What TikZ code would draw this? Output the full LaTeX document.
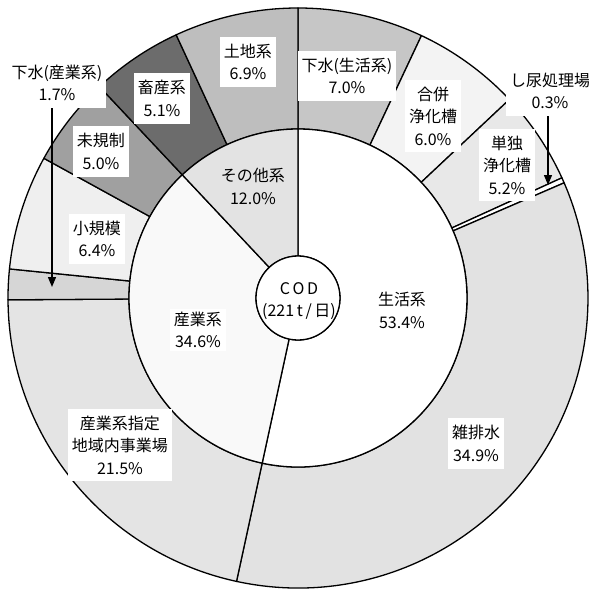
\documentclass[tikz,border=0pt]{standalone}
\usepackage{fontspec}
\newfontfamily\jpfont{Noto Sans CJK JP}
\usetikzlibrary{arrows.meta,positioning}

\definecolor{sewerhome}{HTML}{C6C6C6}
\definecolor{combined}{HTML}{F3F3F3}
\definecolor{single}{HTML}{E8E8E8}
\definecolor{greywater}{HTML}{E2E2E2}
\definecolor{zoned}{HTML}{E4E4E4}
\definecolor{sewerind}{HTML}{D6D6D6}
\definecolor{smallsc}{HTML}{EFEFEF}
\definecolor{unreg}{HTML}{A0A0A0}
\definecolor{livestock}{HTML}{6C6C6C}
\definecolor{landuse}{HTML}{BEBEBE}
\definecolor{industry}{HTML}{F9F9F9}
\definecolor{others}{HTML}{E3E3E3}

\begin{document}
\begin{tikzpicture}[
    x=1pt, y=1pt,
    font=\jpfont\fontsize{16}{22.5}\selectfont,
    slice/.style={draw, line width=1.3pt, line join=round},
    tag/.style={fill=white, align=center, inner xsep=4pt, inner ysep=7pt},
    plain/.style={align=center, inner sep=2pt},
    pointer/.style={-{Triangle[length=10pt, width=8pt]}, line width=1.3pt}
]
\useasboundingbox (-298,-294) rectangle (291,298);

% Outer ring
\foreach \a/\b/\c in {90/64.8/sewerhome, 64.8/43.2/combined, 43.2/24.48/single,
    24.48/23.4/white, 23.4/-102.24/greywater, -102.24/-179.64/zoned,
    -179.64/-185.76/sewerind, -185.76/-208.8/smallsc, -208.8/-226.8/unreg,
    -226.8/-245.16/livestock, -245.16/-270/landuse}
  \filldraw[slice, fill=\c] (\a:169pt) arc[start angle=\a, end angle=\b, radius=169pt]
    -- (\b:290pt) arc[start angle=\b, end angle=\a, radius=290pt] -- cycle;

% Inner ring
\foreach \a/\b/\c in {90/-102.24/white, -102.24/-226.8/industry, -226.8/-270/others}
  \filldraw[slice, fill=\c] (\a:42pt) arc[start angle=\a, end angle=\b, radius=42pt]
    -- (\b:169pt) arc[start angle=\b, end angle=\a, radius=169pt] -- cycle;

% Centre
\filldraw[slice, fill=white] (0,0) circle[radius=42pt];
\node[plain] (total) at (1,-3) {C\,O\,D\\(221\,t\,/\,日)};

% Inner labels
\node[plain] (living) at (104,-12.5) {生活系\\53.4\%};
\node[tag, inner ysep=3pt] (industrial) at (-100,-32) {産業系\\34.6\%};
\node[plain] (other) at (-45,111.5) {その他系\\12.0\%};

% Outer labels
\node[tag] (sewer-home) at (49,222) {下水(生活系)\\7.0\%};
\node[tag] (combined-tank) at (135,182) {合併\\浄化槽\\6.0\%};
\node[tag] (single-tank) at (209,133) {単独\\浄化槽\\5.2\%};
\node[tag] (night-soil) at (252,207) {し尿処理場\\0.3\%};
\node[tag] (grey-water) at (178,-145.5) {雑排水\\34.9\%};
\node[tag] (zoned-plant) at (-178,-147) {産業系指定\\地域内事業場\\21.5\%};
\node[tag] (sewer-ind) at (-241,215) {下水(産業系)\\1.7\%};
\node[tag] (small-scale) at (-201,59) {小規模\\6.4\%};
\node[tag] (unregulated) at (-197,146.5) {未規制\\5.0\%};
\node[tag] (livestock-farm) at (-136,199.5) {畜産系\\5.1\%};
\node[tag] (land) at (-50,236) {土地系\\6.9\%};

% Pointers to thin slices
\coordinate (night-soil-tip) at (250,113);
\coordinate (sewer-ind-tip) at (-246,11);
\draw[pointer] (night-soil.south -| night-soil-tip) -- (night-soil-tip);
\draw[pointer] (sewer-ind.south -| sewer-ind-tip) -- (sewer-ind-tip);

\end{tikzpicture}
\end{document}
